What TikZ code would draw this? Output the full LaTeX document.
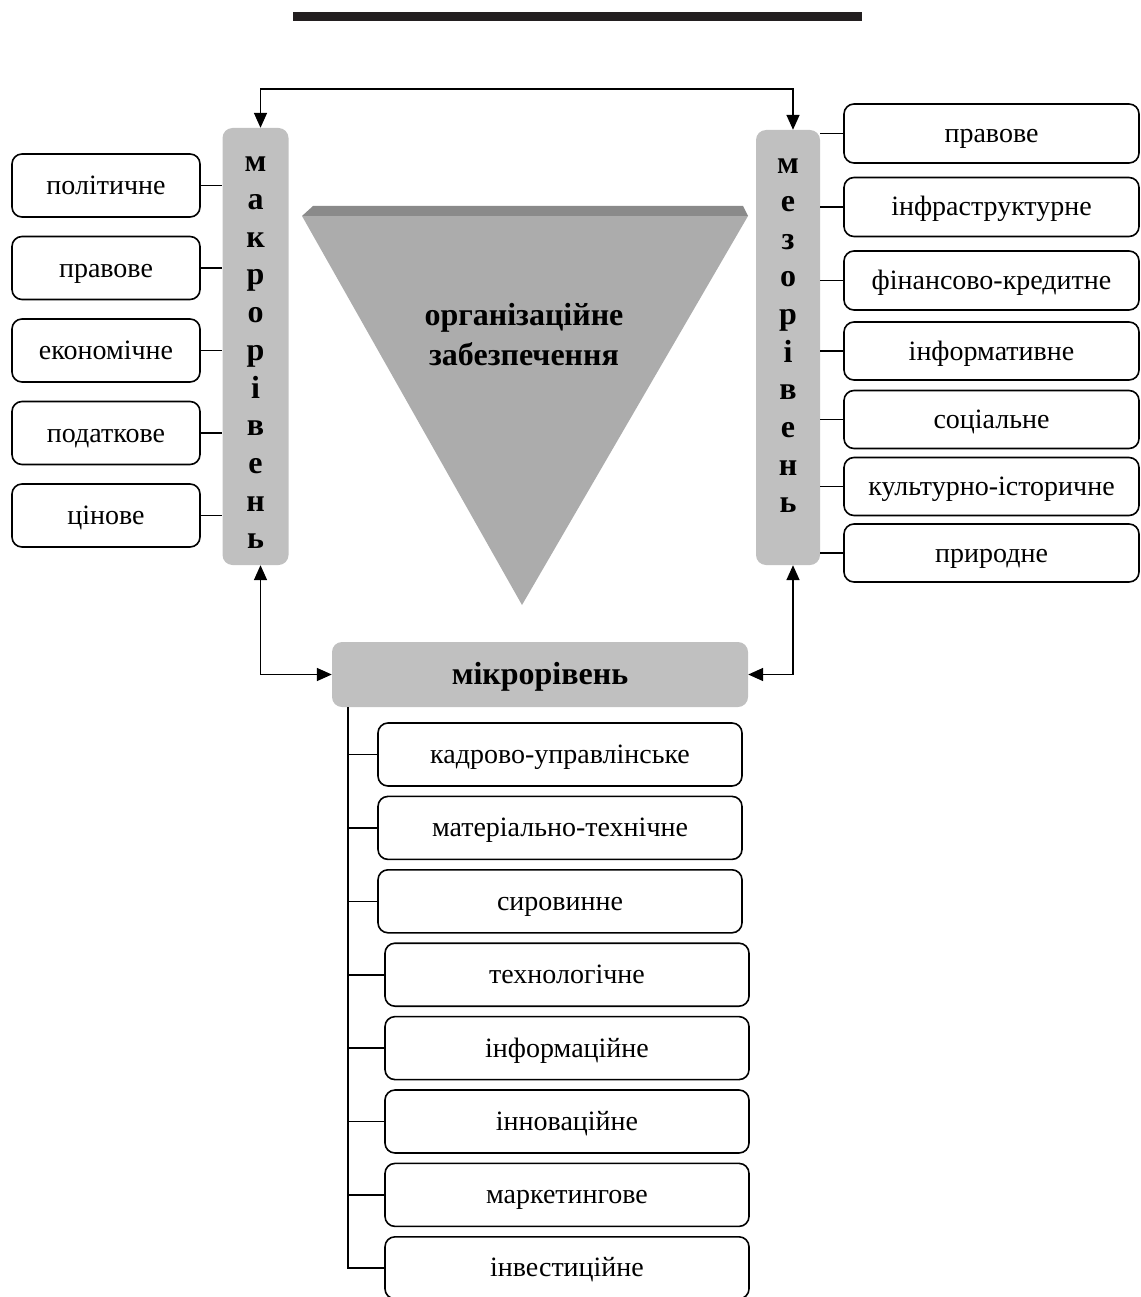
\documentclass[tikz,border=0pt]{standalone}
\usepackage{fontspec}
\setmainfont{Liberation Serif}
\usetikzlibrary{
  arrows.meta,
  positioning,
}
\newcommand{\boxfont}{\fontsize{28}{32}\selectfont}
\newcommand{\tierfont}{\bfseries\fontsize{32}{37.7}\selectfont}
\definecolor{tiergrey}{RGB}{192,192,192}
\definecolor{facegrey}{RGB}{172,172,172}
\definecolor{slabgrey}{RGB}{138,138,138}
\definecolor{rulerblack}{RGB}{35,31,32}
\tikzstyle{factor} = [
  rectangle,
  draw,
  rounded corners=10pt,
  line width=1.6pt,
  inner sep=0pt,
  text height=18pt,
  text depth=0pt,
  font=\boxfont,
]
\tikzstyle{tier} = [
  rectangle,
  rounded corners=10pt,
  fill=tiergrey,
  inner sep=0pt,
  font=\tierfont,
]
\tikzstyle{link} = [line width=1.6pt]
\tikzstyle{arrow} = [
  {Triangle[length=15pt,width=13pt]}-{Triangle[length=15pt,width=13pt]},
  line width=1.6pt,
]

\begin{document}
\begin{tikzpicture}[x=1pt,y=-1pt,node distance=17.9pt and 0pt]
      \useasboundingbox (0,0) rectangle (1140,1297);
      \fill[rulerblack] (293,12) rectangle (862,21);

      % triangle
      \fill[facegrey] (302,216) -- (748,216) -- (522,605) -- cycle;
      \fill[slabgrey] (313,206) -- (743,206) -- (748,216) -- (302,216) -- cycle;
      \node[font=\bfseries\fontsize{32}{40}\selectfont,align=center] (org) at (524,335) {організаційне\\забезпечення};

      % levels
      \node[tier,minimum width=66pt,minimum height=437pt] (macro) at (255.5,346.5) {};
      \node[font=\tierfont,align=center] (macrotxt) at (255.5,353) {м\\а\\к\\р\\о\\р\\і\\в\\е\\н\\ь};
      \node[tier,minimum width=64pt,minimum height=435pt] (meso) at (788,347.5) {};
      \node[font=\tierfont,align=center] (mesotxt) at (788,336) {м\\е\\з\\о\\р\\і\\в\\е\\н\\ь};
      \node[tier,minimum width=416pt,minimum height=65pt,text height=20pt,text depth=0pt] (micro) at (540,674.5) {мікрорівень};

      % macro factors
      \node[factor,minimum width=188pt,minimum height=63pt] (mac1) at (106,185.5) {політичне};
      \node[factor,minimum width=188pt,minimum height=63pt] (mac2) [below=of mac1] {правове};
      \node[factor,minimum width=188pt,minimum height=63pt] (mac3) [below=of mac2] {економічне};
      \node[factor,minimum width=188pt,minimum height=63pt] (mac4) [below=of mac3] {податкове};
      \node[factor,minimum width=188pt,minimum height=63pt] (mac5) [below=of mac4] {цінове};

      % meso factors
      \node[factor,minimum width=295pt,minimum height=59pt] (mes1) at (991.5,133.5) {правове};
      \node[factor,minimum width=295pt,minimum height=59pt] (mes2) at (991.5,207) {інфраструктурне};
      \node[factor,minimum width=295pt,minimum height=59pt] (mes3) at (991.5,280.5) {фінансово-кредитне};
      \node[factor,minimum width=295pt,minimum height=58pt] (mes4) at (991.5,351) {інформативне};
      \node[factor,minimum width=295pt,minimum height=58pt] (mes5) at (991.5,419.5) {соціальне};
      \node[factor,minimum width=295pt,minimum height=58pt] (mes6) at (991.5,486.5) {культурно-історичне};
      \node[factor,minimum width=295pt,minimum height=58pt] (mes7) at (991.5,553) {природне};

      % micro factors
      \node[factor,minimum width=364pt,minimum height=63pt] (mic1) at (560,754.5) {кадрово-управлінське};
      \node[factor,minimum width=364pt,minimum height=63pt,below=8.8pt of mic1] (mic2) {матеріально-технічне};
      \node[factor,minimum width=364pt,minimum height=63pt,below=8.8pt of mic2] (mic3) {сировинне};
      \node[factor,minimum width=364pt,minimum height=63pt,below=8.8pt of mic3,xshift=7pt] (mic4) {технологічне};
      \node[factor,minimum width=364pt,minimum height=63pt,below=8.8pt of mic4] (mic5) {інформаційне};
      \node[factor,minimum width=364pt,minimum height=63pt,below=8.8pt of mic5] (mic6) {інноваційне};
      \node[factor,minimum width=364pt,minimum height=63pt,below=8.8pt of mic6] (mic7) {маркетингове};
      \node[factor,minimum width=364pt,minimum height=62pt,below=8.8pt of mic7] (mic8) {інвестиційне};

      \draw[link] (mac1.east) -- (mac1.east -| macro.west);
      \draw[link] (mac2.east) -- (mac2.east -| macro.west);
      \draw[link] (mac3.east) -- (mac3.east -| macro.west);
      \draw[link] (mac4.east) -- (mac4.east -| macro.west);
      \draw[link] (mac5.east) -- (mac5.east -| macro.west);

      \draw[link] (mes1.west) -- (mes1.west -| meso.east);
      \draw[link] (mes2.west) -- (mes2.west -| meso.east);
      \draw[link] (mes3.west) -- (mes3.west -| meso.east);
      \draw[link] (mes4.west) -- (mes4.west -| meso.east);
      \draw[link] (mes5.west) -- (mes5.west -| meso.east);
      \draw[link] (mes6.west) -- (mes6.west -| meso.east);
      \draw[link] (mes7.west) -- (mes7.west -| meso.east);

      \coordinate (trunk) at ([xshift=16pt]micro.south west);
      \draw[link] (trunk) |- (mic8.west);
      \draw[link] (mic1.west) -- (mic1.west -| trunk);
      \draw[link] (mic2.west) -- (mic2.west -| trunk);
      \draw[link] (mic3.west) -- (mic3.west -| trunk);
      \draw[link] (mic4.west) -- (mic4.west -| trunk);
      \draw[link] (mic5.west) -- (mic5.west -| trunk);
      \draw[link] (mic6.west) -- (mic6.west -| trunk);
      \draw[link] (mic7.west) -- (mic7.west -| trunk);

      \draw[arrow] ([xshift=5pt]macro.north) -- ++(0,-39) -| ([xshift=5pt]meso.north);
      \draw[arrow] ([xshift=5pt]macro.south) |- (micro.west);
      \draw[arrow] ([xshift=5pt]meso.south) |- (micro.east);
    \end{tikzpicture}
\end{document}
